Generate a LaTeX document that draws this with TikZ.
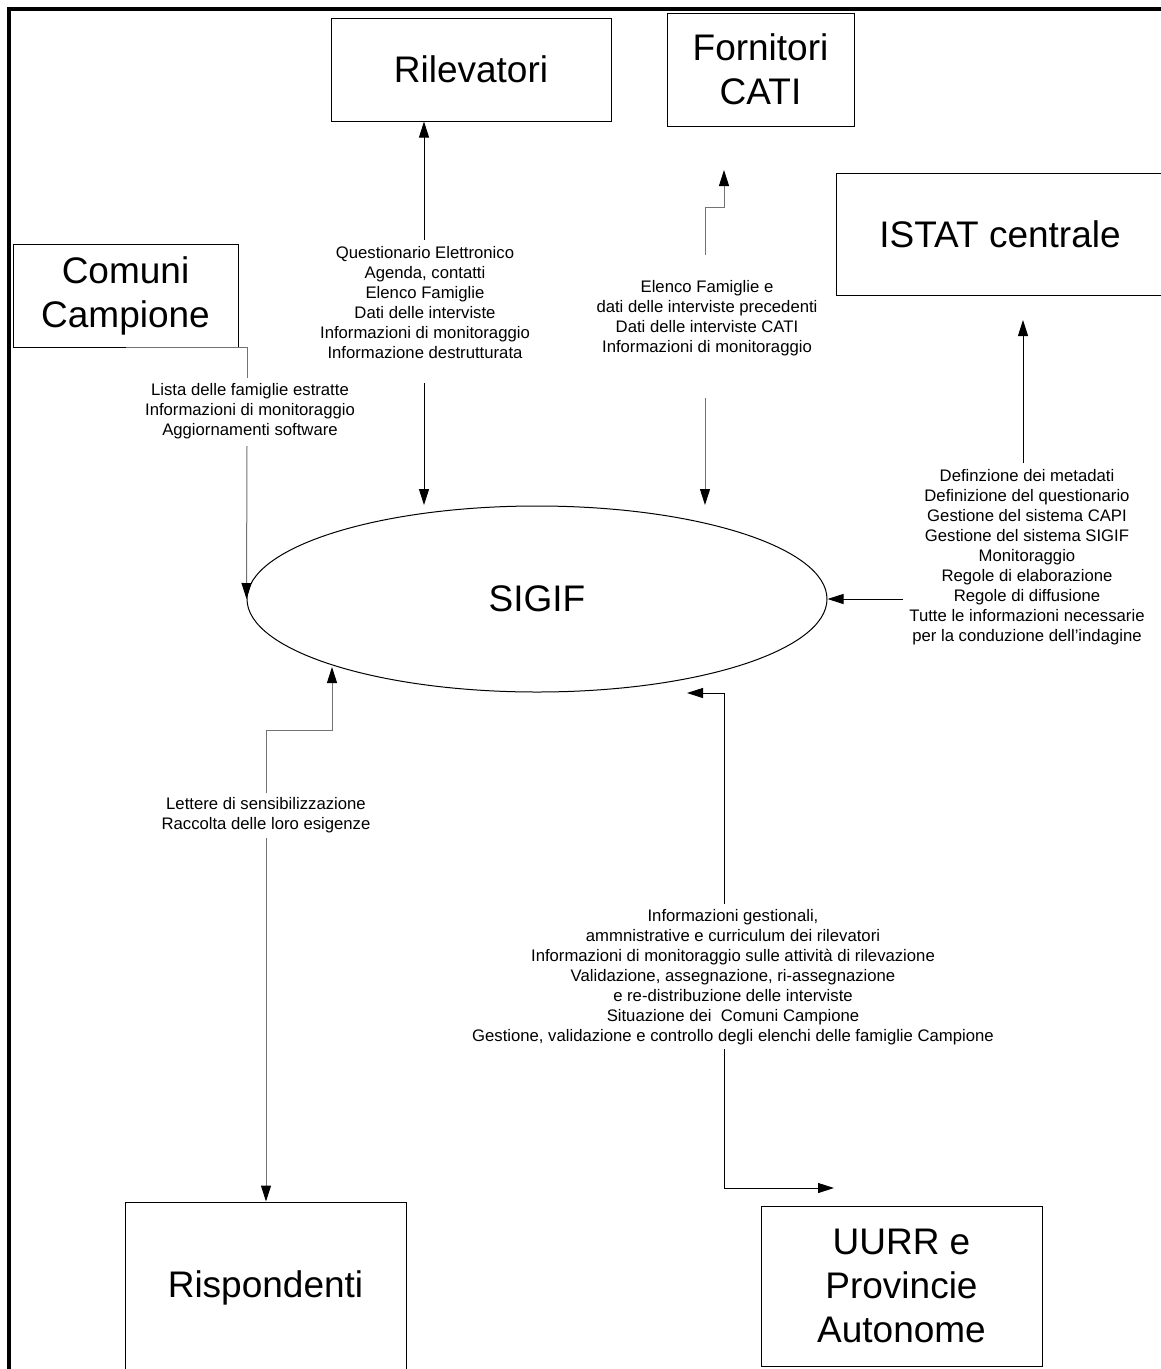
\documentclass[tikz,border=0pt]{standalone}
\usepackage{fontspec}
\setmainfont{Liberation Sans}
\usetikzlibrary{arrows.meta,shapes.geometric}
\begin{document}
\begin{tikzpicture}[x=1pt,y=-1pt,
  box/.style={draw=black, line width=1pt, inner sep=0pt, align=center,
    font=\fontsize{37}{44}\selectfont},
  lbl/.style={inner sep=0pt, align=center, font=\fontsize{16.7}{20}\selectfont},
  ln/.style={line width=1pt, draw=black},
  gln/.style={line width=1pt, draw=black!55},
  arr/.style={-{Triangle[length=16pt,width=10pt,color=black]}}
]
\clip (0,0) rectangle (1161,1369);
\fill[white] (0,0) rectangle (1161,1369);
% frame
\draw[line width=4pt] (9,1400) -- (9,9) -- (1200,9);

% boxes
\node[box, minimum width=280, minimum height=103] (ril) at (471,69.5) {Rilevatori};
\node[box, minimum width=187, minimum height=113] (forn) at (760.5,69.5) {Fornitori\\CATI};
\node[box, minimum width=328, minimum height=122] (istat) at (1000,234) {ISTAT centrale};
\node[box, minimum width=225, minimum height=103] (com) at (125.5,295.5) {Comuni\\Campione};
\node[box, minimum width=281, minimum height=172] (risp) at (265.5,1288) {Rispondenti};
\node[box, minimum width=281, minimum height=160] (uurr) at (901.5,1286) {UURR e\\Provincie\\Autonome};
\node[ellipse, draw=black, line width=1pt, inner sep=0pt, minimum width=580, minimum height=186,
  font=\fontsize{37}{44}\selectfont] (sigif) at (537,599) {SIGIF};

% labels
\node[lbl] (lril) at (425,303) {Questionario Elettronico\\Agenda, contatti\\Elenco Famiglie\\Dati delle interviste\\Informazioni di monitoraggio\\Informazione destrutturata};
\node[lbl] (lforn) at (707,318) {Elenco Famiglie e\\dati delle interviste precedenti\\Dati delle interviste CATI\\Informazioni di monitoraggio};
\node[lbl] (lcom) at (250,411) {Lista delle famiglie estratte\\Informazioni di monitoraggio\\Aggiornamenti software};
\node[lbl] (listat) at (1027,557) {Definzione dei metadati\\Definizione del questionario\\Gestione del sistema CAPI\\Gestione del sistema SIGIF\\Monitoraggio\\Regole di elaborazione\\Regole di diffusione\\Tutte le informazioni necessarie\\per la conduzione dell’indagine};
\node[lbl] (lrisp) at (266,815) {Lettere di sensibilizzazione\\Raccolta delle loro esigenze};
\node[lbl] (luurr) at (733,977) {Informazioni gestionali,\\ammnistrative e curriculum dei rilevatori\\Informazioni di monitoraggio sulle attività di rilevazione\\Validazione, assegnazione, ri-assegnazione\\e re-distribuzione delle interviste\\Situazione dei \ Comuni Campione\\Gestione, validazione e controllo degli elenchi delle famiglie Campione};

% coordinates
\coordinate (c1) at (247,378);
\coordinate (c2) at (247,446);
\coordinate (r1) at (424,240);
\coordinate (r2) at (424,383);
\coordinate (r3) at (424,505);
\coordinate (f1) at (705,255);
\coordinate (f2) at (724,170);
\coordinate (f3) at (705,398);
\coordinate (f4) at (705,505);
\coordinate (i1) at (1023,463);
\coordinate (i2) at (1023,320);
\coordinate (i3) at (903,599);
\coordinate (p1) at (266,793);
\coordinate (p2) at (332,667);
\coordinate (p3) at (266,838);
\coordinate (u1) at (724,904);
\coordinate (u2) at (687,693);
\coordinate (u3) at (724,1049);
\coordinate (u4) at (834,1188);

% connectors
\draw[gln] (com.south) -| (c1);
\draw[gln, arr] (c2) -- (sigif.west);
\draw[ln, arr] (r1) -- (r1 |- ril.south);
\draw[ln, arr] (r2) -- (r3);
\draw[gln, arr] (f1) -- ++(0,-48) -| (f2);
\draw[gln, arr] (f3) -- (f4);
\draw[ln, arr] (i1) -- (i2);
\draw[ln, arr] (i3) -- (sigif.east);
\draw[gln, arr] (p1) -- ++(0,-63) -| (p2);
\draw[gln, arr] (p3) -- (p3 |- risp.north);
\draw[ln, arr] (u1) |- (u2);
\draw[ln, arr] (u3) |- (u4);
\end{tikzpicture}
\end{document}
